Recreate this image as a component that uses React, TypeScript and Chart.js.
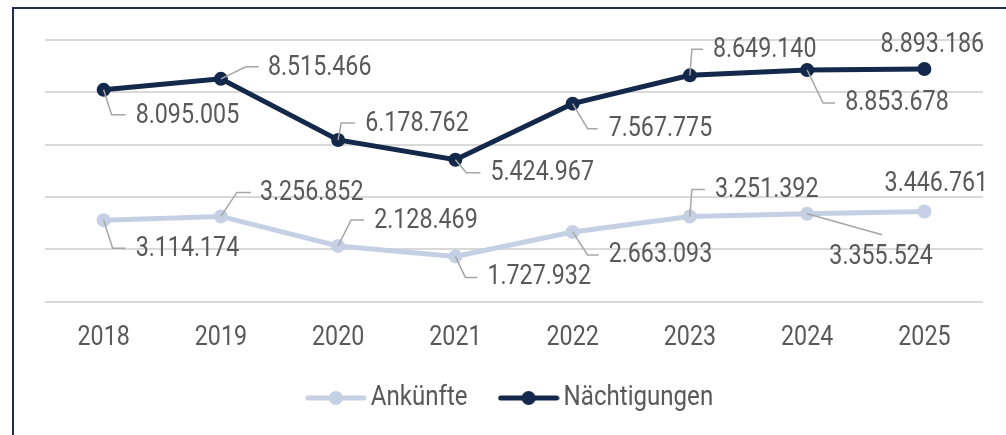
import React, { useEffect, useRef } from "react";
import { Chart, registerables } from "chart.js";

Chart.register(...registerables);

// ---- data ----
const years = ["2018", "2019", "2020", "2021", "2022", "2023", "2024", "2025"];
const ankuenfte = [3114174, 3256852, 2128469, 1727932, 2663093, 3251392, 3355524, 3446761];
const naechtigungen = [8095005, 8515466, 6178762, 5424967, 7567775, 8649140, 8853678, 8893186];
const seriesNames = ["Ankünfte", "Nächtigungen"];
const yMin = 0;
const yMax = 10000000;
const yStep = 2000000;

// ---- label placement (pixel offsets from each point) ----
type Place = { elbow?: [number, number]; end?: [number, number]; text: [number, number]; align: "left" | "center" };
const ankPlaces: Place[] = [
  { elbow: [9, 28], end: [22, 28], text: [32, 29], align: "left" },
  { elbow: [16, -24], end: [30, -24], text: [39, -23], align: "left" },
  { elbow: [13, -26], end: [26, -26], text: [36, -25], align: "left" },
  { elbow: [10, 21], end: [22, 21], text: [32, 21], align: "left" },
  { elbow: [15, 23], end: [26, 23], text: [36, 23], align: "left" },
  { elbow: [2, -27], end: [15, -27], text: [25, -26], align: "left" },
  { end: [75, 21], text: [74, 43], align: "center" },
  { text: [12, -27], align: "center" },
];
const naePlaces: Place[] = [
  { elbow: [8, 25], end: [22, 25], text: [32, 26], align: "left" },
  { elbow: [25, -12], end: [38, -12], text: [47, -11], align: "left" },
  { elbow: [3, -17], end: [17, -17], text: [27, -16], align: "left" },
  { elbow: [11, 13], end: [25, 13], text: [35, 14], align: "left" },
  { elbow: [15, 25], end: [25, 25], text: [36, 26], align: "left" },
  { elbow: [2, -26], end: [13, -26], text: [23, -25], align: "left" },
  { elbow: [16, 33], end: [28, 33], text: [38, 33], align: "left" },
  { text: [8, -24], align: "center" },
];

const NAVY = "#13284A";
const LIGHT = "#C6D0E4";
const TEXT = "#595959";
const GRID = "#D9D9D9";
const LEADER = "#A6A6A6";
const FONT = "Roboto, 'Liberation Sans', sans-serif";
const FS = 27;
const LEGEND_FS = 28;
const TEXT_SX = 0.86; // narrow text look

function fmt(v: number): string {
  return String(v).replace(/\B(?=(\d{3})+(?!\d))/g, ".");
}

function legendIcon(color: string): HTMLCanvasElement {
  const c = document.createElement("canvas");
  c.width = 62;
  c.height = 16;
  const g = c.getContext("2d")!;
  g.strokeStyle = color;
  g.lineWidth = 5;
  g.lineCap = "round";
  g.beginPath();
  g.moveTo(3, 8);
  g.lineTo(59, 8);
  g.stroke();
  g.fillStyle = color;
  g.beginPath();
  g.arc(31, 8, 7, 0, Math.PI * 2);
  g.fill();
  return c;
}

function condenseText(ctx: any) {
  const origFill = ctx.fillText.bind(ctx);
  const origMeasure = ctx.measureText.bind(ctx);
  ctx.fillText = (t: string, x: number, y: number, mw?: number) => {
    ctx.save();
    ctx.translate(x, y);
    ctx.scale(TEXT_SX, 1);
    if (mw === undefined) origFill(t, 0, 0);
    else origFill(t, 0, 0, mw / TEXT_SX);
    ctx.restore();
  };
  ctx.measureText = (t: string) => {
    const m = origMeasure(t);
    return {
      width: m.width * TEXT_SX,
      actualBoundingBoxAscent: m.actualBoundingBoxAscent,
      actualBoundingBoxDescent: m.actualBoundingBoxDescent,
      actualBoundingBoxLeft: m.actualBoundingBoxLeft * TEXT_SX,
      actualBoundingBoxRight: m.actualBoundingBoxRight * TEXT_SX,
      fontBoundingBoxAscent: m.fontBoundingBoxAscent,
      fontBoundingBoxDescent: m.fontBoundingBoxDescent,
    };
  };
}

const leaderLabels = {
  id: "leaderLabels",
  afterDatasetsDraw(chart: any, _args: any, opts: any) {
    const ctx = chart.ctx as CanvasRenderingContext2D;
    const places: Place[][] = opts.places;
    chart.data.datasets.forEach((ds: any, di: number) => {
      const meta = chart.getDatasetMeta(di);
      meta.data.forEach((pt: any, i: number) => {
        const p = places[di][i];
        const x = pt.x;
        const y = pt.y;
        ctx.save();
        if (p.end) {
          ctx.strokeStyle = LEADER;
          ctx.lineWidth = 1.5;
          ctx.beginPath();
          ctx.moveTo(x, y);
          if (p.elbow) ctx.lineTo(x + p.elbow[0], y + p.elbow[1]);
          ctx.lineTo(x + p.end[0], y + p.end[1]);
          ctx.stroke();
        }
        ctx.fillStyle = TEXT;
        ctx.font = `${FS}px ${FONT}`;
        ctx.textAlign = p.align;
        ctx.textBaseline = "middle";
        ctx.fillText(fmt(ds.data[i]), x + p.text[0], y + p.text[1]);
        ctx.restore();
      });
    });
  },
};

// moves the legend box vertically after layout
const legendShift = {
  id: "legendShift",
  afterLayout(chart: any, _args: any, opts: any) {
    const lg = chart.legend;
    if (lg) {
      lg.top += opts.dy;
      lg.bottom += opts.dy;
    }
  },
};

export default function App() {
  const ref = useRef<HTMLCanvasElement>(null);

  useEffect(() => {
    const canvas = ref.current!;
    condenseText(canvas.getContext("2d"));
    const icons = [legendIcon(LIGHT), legendIcon(NAVY)];
    const chart = new Chart(canvas, {
      type: "line",
      data: {
        labels: years,
        datasets: [
          {
            label: seriesNames[0],
            data: ankuenfte,
            borderColor: LIGHT,
            backgroundColor: LIGHT,
            borderWidth: 5,
            pointRadius: 7,
            pointBorderWidth: 0,
            pointBackgroundColor: LIGHT,
            tension: 0,
          },
          {
            label: seriesNames[1],
            data: naechtigungen,
            borderColor: NAVY,
            backgroundColor: NAVY,
            borderWidth: 5,
            pointRadius: 7,
            pointBorderWidth: 0,
            pointBackgroundColor: NAVY,
            tension: 0,
          },
        ],
      },
      options: {
        animation: false,
        responsive: false,
        maintainAspectRatio: false,
        layout: { padding: { left: 45, right: 23, top: 40, bottom: 3 } },
        scales: {
          x: {
            offset: true,
            grid: { display: false, drawTicks: false },
            border: { display: false },
            ticks: { color: TEXT, font: { family: FONT, size: FS }, padding: 20, maxRotation: 0 },
            afterFit: (s: any) => {
              s.height -= 20;
            },
          },
          y: {
            min: yMin,
            max: yMax,
            ticks: { display: false, stepSize: yStep },
            grid: { color: GRID, lineWidth: 2, drawTicks: false },
            border: { display: false },
          },
        },
        plugins: {
          legend: {
            position: "bottom",
            labels: {
              usePointStyle: true,
              pointStyleWidth: 42,
              color: TEXT,
              font: { family: FONT, size: LEGEND_FS },
              padding: 40,
              generateLabels: (ch: any) =>
                ch.data.datasets.map((d: any, i: number) => ({
                  text: d.label,
                  pointStyle: icons[i],
                  fillStyle: d.borderColor,
                  strokeStyle: d.borderColor,
                  lineWidth: 0,
                  fontColor: TEXT,
                  hidden: false,
                  datasetIndex: i,
                })),
            },
          },
          tooltip: { enabled: false },
          leaderLabels: { places: [ankPlaces, naePlaces] },
          legendShift: { dy: -10 },
        } as any,
      },
      plugins: [leaderLabels as any, legendShift as any],
    });
    if ((document as any).fonts) {
      (document as any).fonts.load(`${FS}px Roboto`).then(() => chart.update());
    }
    return () => chart.destroy();
  }, []);

  return (
    <div style={{ position: "fixed", left: 0, top: 0, width: 1006, height: 435, overflow: "hidden", background: "#fff" }}>
      <div
        style={{
          position: "absolute",
          left: 12,
          top: 7,
          width: 1100,
          height: 600,
          borderLeft: "2px solid #1E2F4F",
          borderTop: "2px solid #1E2F4F",
        }}
      />
      <canvas ref={ref} width={1006} height={435} style={{ position: "absolute", left: 0, top: 0 }} />
    </div>
  );
}
